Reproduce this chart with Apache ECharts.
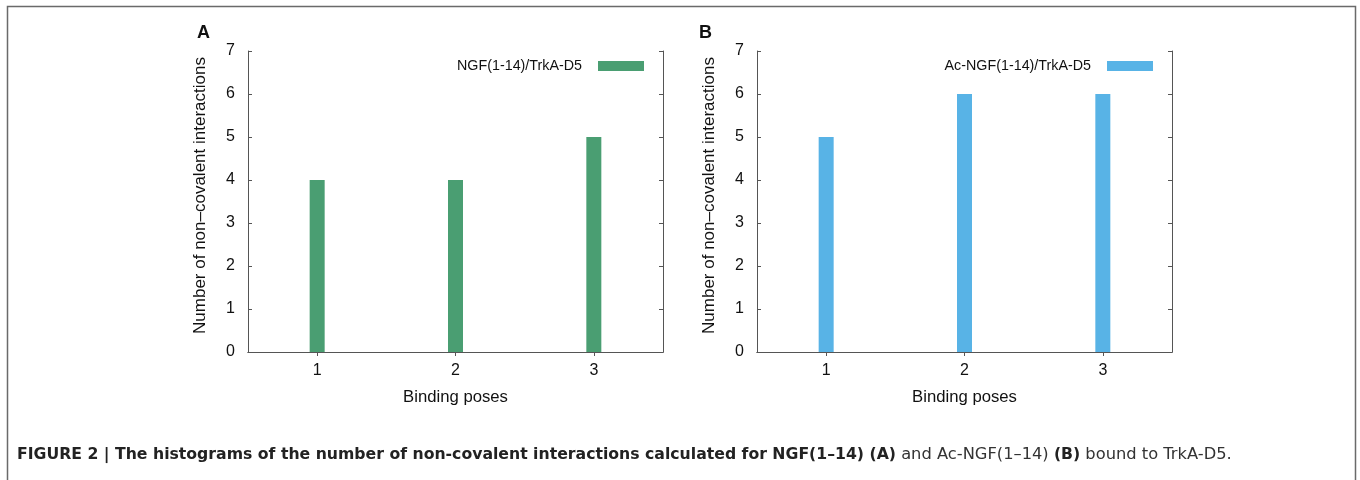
<!DOCTYPE html>
<html><head><meta charset="utf-8">
<script src="https://cdn.jsdelivr.net/npm/echarts@6.0.0/dist/echarts.min.js"></script>
<style>html,body{margin:0;padding:0;background:#fff}#c{width:1360px;height:480px}</style>
</head><body><div id="c"></div>
<script>
const categories = ['1', '2', '3'];
const valuesA = [4, 4, 5];
const valuesB = [5, 6, 6];
const seriesNameA = 'NGF(1-14)/TrkA-D5';
const seriesNameB = 'Ac-NGF(1-14)/TrkA-D5';
const panelLetters = ['A', 'B'];
const yMin = 0, yMax = 7, yStep = 1;
const xTitle = 'Binding poses';
const yTitle = 'Number of non\u2013covalent interactions';
const captionBold1 = 'FIGURE 2 | The histograms of the number of non-covalent interactions calculated for NGF(1\u201314) (A)';
const captionNorm1 = ' and Ac-NGF(1\u201314) ';
const captionBold2 = '(B)';
const captionNorm2 = ' bound to TrkA-D5.';

const FONT = '"Liberation Sans", Arial, Helvetica, sans-serif';
const CAPFONT = '"DejaVu Sans", "Liberation Sans", sans-serif';
const AX = '#555';
const colors = ['#4a9e72', '#58b3e6'];

const grids = [
  { left: 248, top: 51, width: 415, height: 301 },
  { left: 757, top: 51, width: 415, height: 301 }
];

const xAxes = [], yAxes = [];
grids.forEach((g, i) => {
  xAxes.push({
    gridIndex: i, type: 'category', data: categories, boundaryGap: true, position: 'bottom',
    axisLine: { show: true, lineStyle: { color: AX, width: 1 } },
    axisTick: { show: true, inside: true, alignWithLabel: true, length: 4, lineStyle: { color: AX } },
    axisLabel: { fontSize: 16, color: '#111', margin: 11, fontFamily: FONT },
    splitLine: { show: false },
    name: xTitle, nameLocation: 'middle', nameGap: 37,
    nameTextStyle: { fontSize: 16.7, color: '#111', fontFamily: FONT }
  });
  xAxes.push({
    gridIndex: i, type: 'category', data: categories, boundaryGap: true, position: 'top',
    axisLine: { show: true, lineStyle: { color: AX, width: 1 } },
    axisTick: { show: true, inside: true, alignWithLabel: true, length: 4, lineStyle: { color: AX } },
    axisLabel: { show: false }, splitLine: { show: false }
  });
  yAxes.push({
    gridIndex: i, type: 'value', min: yMin, max: yMax, interval: yStep, position: 'left',
    axisLine: { show: true, lineStyle: { color: AX, width: 1 } },
    axisTick: { show: true, inside: true, length: 4, lineStyle: { color: AX } },
    axisLabel: { fontSize: 16, color: '#111', margin: 13, fontFamily: FONT },
    splitLine: { show: false },
    name: yTitle, nameLocation: 'middle', nameGap: 39, nameRotate: 90,
    nameTextStyle: { fontSize: 17, color: '#111', fontFamily: FONT, padding: [0, 0, 0, 12] }
  });
  yAxes.push({
    gridIndex: i, type: 'value', min: yMin, max: yMax, interval: yStep, position: 'right',
    axisLine: { show: true, lineStyle: { color: AX, width: 1 } },
    axisTick: { show: true, inside: true, length: 4, lineStyle: { color: AX } },
    axisLabel: { show: false }, splitLine: { show: false }
  });
});

const legendBase = {
  orient: 'horizontal', align: 'right', icon: 'rect', itemWidth: 46, itemHeight: 10,
  padding: 0, top: 59, selectedMode: false,
  textStyle: { fontSize: 14.3, color: '#111', fontFamily: FONT, padding: [0, 11, 0, 0] }
};

const chart = echarts.init(document.getElementById('c'), null, { renderer: 'canvas' });
chart.setOption({
  animation: false,
  backgroundColor: '#fff',
  grid: grids.map(g => Object.assign({ outerBoundsMode: 'none', containLabel: false }, g)),
  xAxis: xAxes,
  yAxis: yAxes,
  legend: [
    Object.assign({}, legendBase, { data: [seriesNameA], right: 1360 - 644 }),
    Object.assign({}, legendBase, { data: [seriesNameB], right: 1360 - 1153 })
  ],
  series: [
    { name: seriesNameA, type: 'bar', xAxisIndex: 0, yAxisIndex: 0, data: valuesA, barWidth: 15,
      itemStyle: { color: colors[0] } },
    { name: seriesNameB, type: 'bar', xAxisIndex: 2, yAxisIndex: 2, data: valuesB, barWidth: 15,
      itemStyle: { color: colors[1] } }
  ],
  graphic: [
    { type: 'rect', silent: true, shape: { x: 7.5, y: 6.5, width: 1348, height: 520 },
      style: { fill: 'none', stroke: '#6a6a6a', lineWidth: 1.5 } },
    { type: 'text', left: 197, top: 24, style: { text: panelLetters[0], font: 'bold 18px ' + FONT, fill: '#111' } },
    { type: 'text', left: 699, top: 24, style: { text: panelLetters[1], font: 'bold 18px ' + FONT, fill: '#111' } },
    { type: 'text', x: 17, y: 455, style: {
        text: '{b|' + captionBold1 + '}{n|' + captionNorm1 + '}{b|' + captionBold2 + '}{n|' + captionNorm2 + '}',
        verticalAlign: 'middle',
        rich: {
          b: { fontFamily: CAPFONT, fontWeight: 'bold', fontSize: 15.7, fill: '#222' },
          n: { fontFamily: CAPFONT, fontWeight: 'normal', fontSize: 16.3, fill: '#333' }
        }
      } }
  ]
});
</script></body></html>
